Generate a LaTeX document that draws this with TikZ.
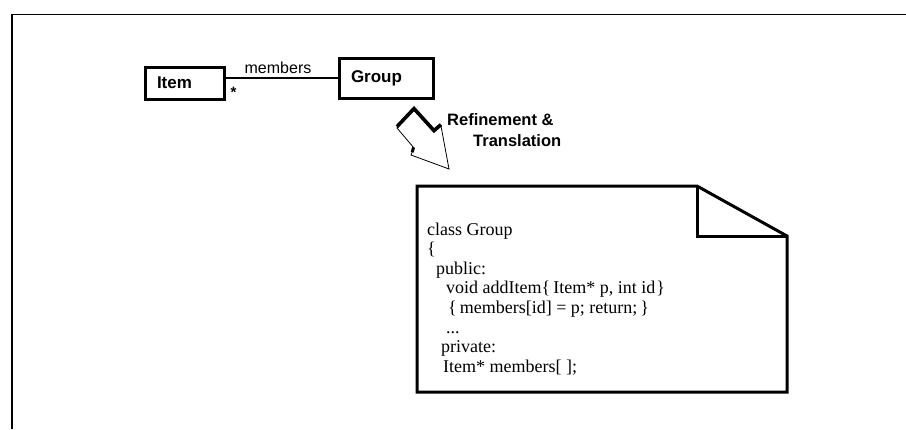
\documentclass[tikz,border=0pt]{standalone}
\usepackage{fontspec}
\usetikzlibrary{calc}
\setmainfont{Liberation Serif}
\newfontfamily\uisans{Liberation Sans}
\newcommand\bracegap{\hspace{3pt}}
\begin{document}
\begin{tikzpicture}[x=1pt,y=-1pt,
  classbox/.style={draw,line width=3pt,inner xsep=12pt,inner ysep=0pt,
    font=\uisans\fontsize{17}{20}\selectfont\bfseries,anchor=center,align=left},
  heavy/.style={line width=3pt},
  thin/.style={line width=0.8pt},
  codeline/.style={anchor=base west,inner sep=0pt,font=\fontsize{18}{19.6}\selectfont},
  caption/.style={anchor=west,inner sep=0pt,font=\uisans\fontsize{16.5}{19}\selectfont\bfseries},
  rolelabel/.style={inner sep=0pt,font=\uisans\fontsize{16}{18}\selectfont}]
\useasboundingbox (0,0) rectangle (906,429);

% outer frame
\draw[line width=1.3pt] (12,429) -- (12,14.3) -- (906,14.3);

% class boxes and association
\node[classbox,minimum width=79pt,minimum height=32pt,text width=55pt] (item) at (184.5,83) {Item};
\node[classbox,minimum width=94pt,minimum height=40pt,text width=70pt] (group) at (386,78) {Group};
\draw[line width=1.5pt] (item.east |- group.west) -- (group.west);
\node[rolelabel] (role) at (278,67.5) {members};
\node[rolelabel,font=\uisans\fontsize{15}{18}\selectfont\bfseries] (mult) at (233.5,92) {*};

% refinement arrow
\coordinate (pa) at (397,128);
\coordinate (pb) at (414,110);
\coordinate (pc) at (434,132);
\coordinate (pd) at (441,126);
\coordinate (pe) at (449,169);
\coordinate (pf) at (411,155);
\coordinate (pg) at (414,148);
\draw[thin,line join=miter] (pa) -- (pb) -- (pc) -- (pd) -- (pe) -- (pf) -- (pg) -- cycle;
\draw[line width=3.6pt,line join=miter] ([yshift=1.4pt]pa) -- ([yshift=1.4pt]pb) -- ([yshift=1.4pt]pc) -- ([yshift=1.4pt]pd);
\draw[heavy] ([yshift=0.5pt,xshift=-0.5pt]pg) -- ($(pg)!0.6!(pf)$);
\node[caption] (cap1) at (447,120) {Refinement \&};
\node[caption] (cap2) at (473,141) {Translation};

% note with folded corner
\draw[heavy,line join=miter] (417,186) -- (697,186) -- (787,236) -- (787,392) -- (417,392) -- cycle;
\draw[heavy,line join=miter] (697,186) -- (697,236) -- (787,236);

% code listing
\node[codeline] (code1) at (427,235) {class Group};
\node[codeline] (code2) at (427,254.6) {\{};
\node[codeline] (code3) at (436,274.2) {public:};
\node[codeline] (code4) at (446,293.8) {void addItem\{\bracegap Item* p, int id\hspace{1pt}\}};
\node[codeline] (code5) at (448,313.4) {\{\bracegap members[id] = p; return;\bracegap\}};
\node[codeline] (code6) at (446,333) {...};
\node[codeline] (code7) at (441,352.6) {private:};
\node[codeline] (code8) at (443,372.2) {Item* members[ ];};
\end{tikzpicture}
\end{document}
